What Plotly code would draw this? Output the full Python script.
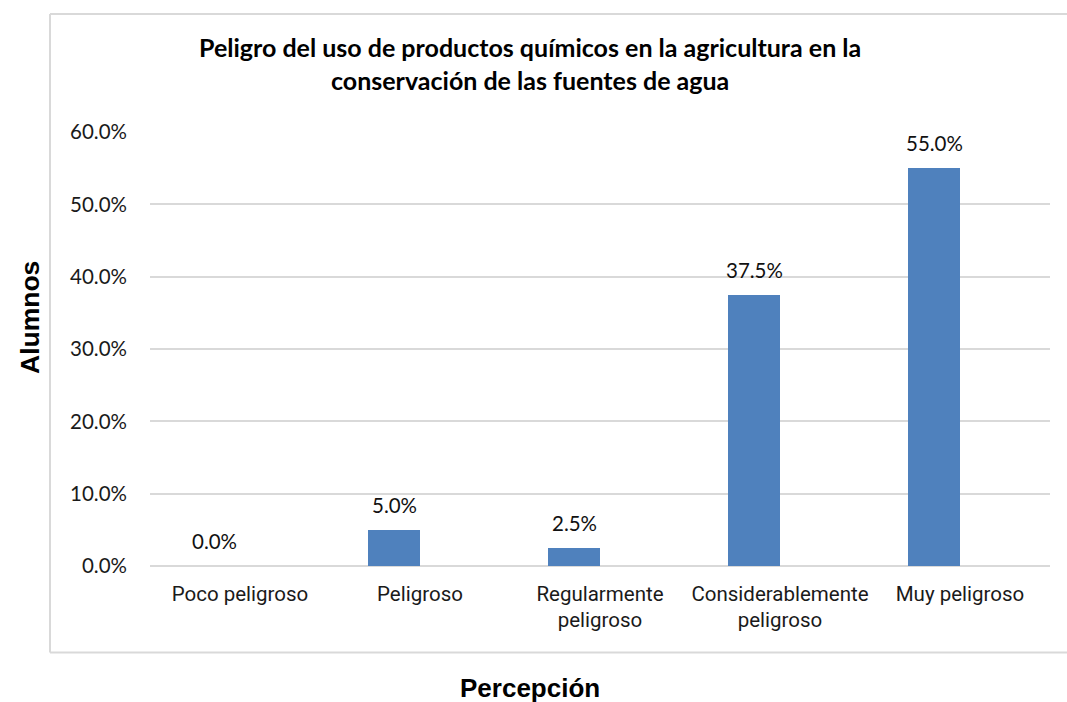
import plotly.graph_objects as go

categories = ["Poco peligroso", "Peligroso", "Regularmente<br>peligroso",
              "Considerablemente<br>peligroso", "Muy peligroso"]
values = [0.0, 0.05, 0.025, 0.375, 0.55]
labels = ["0.0%", "5.0%", "2.5%", "37.5%", "55.0%"]
y_ticks = [0.0, 0.1, 0.2, 0.3, 0.4, 0.5, 0.6]

title_text = ("Peligro del uso de productos químicos en la agricultura en la<br>"
              "conservación de las fuentes de agua")

W, H = 1067, 702
L, R, T, B = 150, 17, 132, 136
pw, ph = W - L - R, H - T - B


def px(xr):
    return (xr - 150) / pw


def py(yr):
    return (566 - yr) / ph


bar_w = 52 / 180.0

fig = go.Figure()
fig.add_trace(go.Bar(
    x=categories, y=values,
    width=bar_w, offset=-bar_w,
    marker=dict(color="#4F81BD", line=dict(width=0)),
    hoverinfo="skip", showlegend=False,
))

for c, v, t in zip(categories, values, labels):
    fig.add_annotation(x=c, y=v, text=t, showarrow=False, xshift=-26, yshift=25,
                       yanchor="middle", xanchor="center",
                       font=dict(family="Lato", size=20.5, color="#111111"))

# title
fig.add_annotation(xref="paper", yref="paper", x=px(530), y=py(63),
                   text="<b>" + title_text + "</b>", showarrow=False,
                   xanchor="center", yanchor="middle", align="center",
                   font=dict(family="Lato", size=25, color="#000000"))

# axis titles
fig.add_annotation(xref="paper", yref="paper", x=px(30), y=py(318),
                   text="<b>Alumnos</b>", textangle=-90, showarrow=False,
                   xanchor="center", yanchor="middle",
                   font=dict(family="Liberation Sans, Arial", size=26.5, color="#000000"))
fig.add_annotation(xref="paper", yref="paper", x=px(530), y=py(688),
                   text="<b>Percepción</b>", showarrow=False,
                   xanchor="center", yanchor="middle",
                   font=dict(family="Liberation Sans, Arial", size=26, color="#000000"))

# outer chart border (right side runs off the picture)
x_left, x_right = px(50), px(1080)
y_bot, y_top = py(652.5), py(14)
border = dict(color="#D9D9D9", width=2)
fig.add_shape(type="line", xref="paper", yref="paper", x0=x_left, x1=x_right,
              y0=y_top, y1=y_top, line=border, layer="below")
fig.add_shape(type="line", xref="paper", yref="paper", x0=x_left, x1=x_right,
              y0=y_bot, y1=y_bot, line=border, layer="below")
fig.add_shape(type="line", xref="paper", yref="paper", x0=x_left, x1=x_left,
              y0=y_bot, y1=y_top, line=border, layer="below")

fig.update_layout(
    width=W, height=H,
    margin=dict(l=L, r=R, t=T, b=B),
    paper_bgcolor="white", plot_bgcolor="white",
    bargap=0.0,
    xaxis=dict(showgrid=False, showline=False, ticks="", zeroline=False,
               ticklabelstandoff=13,
               tickfont=dict(family="Roboto", size=20.5, color="#1a1a1a")),
    yaxis=dict(range=[0, 0.6], tickvals=y_ticks, tickformat=".1%",
               showgrid=True, gridcolor="#D9D9D9", gridwidth=2,
               zeroline=True, zerolinecolor="#D9D9D9", zerolinewidth=2,
               showline=False, ticks="", ticklabelstandoff=22,
               tickfont=dict(family="Lato", size=20.5, color="#1a1a1a")),
)

# remove the default page margin so the figure fills the window exactly
page_css = ("document.body.style.margin='0';document.body.style.overflow='hidden';"
            "document.documentElement.style.overflow='hidden';")
fig.write_html("out.html", post_script=page_css,
               config={"displayModeBar": False, "staticPlot": True})
